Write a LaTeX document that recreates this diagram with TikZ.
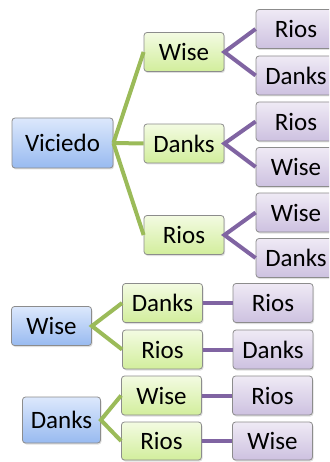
\documentclass[tikz,border=0pt]{standalone}
\usepackage{fontspec}
\setmainfont{Carlito}
\usetikzlibrary{shadows}

\definecolor{blueTop}{HTML}{DCE8FC}
\definecolor{blueBot}{HTML}{98BAF0}
\definecolor{greenTop}{HTML}{F3FBE2}
\definecolor{greenBot}{HTML}{D2EE9C}
\definecolor{purpTop}{HTML}{EFEAF5}
\definecolor{purpBot}{HTML}{CDC1E0}
\definecolor{greenLine}{HTML}{9BBB59}
\definecolor{purpLine}{HTML}{8064A2}

\begin{document}
\begin{tikzpicture}[x=1pt, y=-1pt,
    every node/.style={font=\fontsize{25}{28}\selectfont, rounded corners=3pt, draw=black!45, line width=0.8pt, inner sep=0pt, minimum width=80pt, minimum height=39pt, drop shadow={opacity=0.25, shadow xshift=1pt, shadow yshift=-1.5pt}},
    root/.style={top color=blueTop, bottom color=blueBot},
    mid/.style={top color=greenTop, bottom color=greenBot},
    leaf/.style={top color=purpTop, bottom color=purpBot},
    gline/.style={draw=greenLine, line width=4pt},
    pline/.style={draw=purpLine, line width=4pt}]
    \clip (0,0) rectangle (329,462);

    % first tree
    \node[root, minimum width=101pt, minimum height=50pt](vic) at (62.5, 143) {Viciedo};

    \node[mid](vic_w) at (184, 52) {Wise};
    \node[mid](vic_d) at (184, 143.5) {Danks};
    \node[mid](vic_r) at (184, 235) {Rios};

    \node[leaf](vic_w_r) at (296, 29) {Rios};
    \node[leaf](vic_w_d) at (296, 75.5) {Danks};
    \node[leaf](vic_d_r) at (296, 121.5) {Rios};
    \node[leaf](vic_d_w) at (296, 167) {Wise};
    \node[leaf](vic_r_w) at (296, 212.5) {Wise};
    \node[leaf](vic_r_d) at (296, 258) {Danks};

    \draw[gline] (vic.east) -- (vic_w.west);
    \draw[gline] (vic.east) -- (vic_d.west);
    \draw[gline] (vic.east) -- (vic_r.west);
    \draw[pline] (vic_w_r.west) -- (vic_w.east) -- (vic_w_d.west);
    \draw[pline] (vic_d_r.west) -- (vic_d.east) -- (vic_d_w.west);
    \draw[pline] (vic_r_w.west) -- (vic_r.east) -- (vic_r_d.west);

    % second tree
    \node[root](wis) at (51.5, 326) {Wise};
    \node[mid](wis_d) at (162.5, 303) {Danks};
    \node[mid](wis_r) at (162.5, 349.5) {Rios};
    \node[leaf](wis_d_r) at (273, 303) {Rios};
    \node[leaf](wis_r_d) at (273, 349.5) {Danks};

    \draw[gline] (wis_d.west) -- (wis.east) -- (wis_r.west);
    \draw[pline] (wis_d.east) -- (wis_d_r.west);
    \draw[pline] (wis_r.east) -- (wis_r_d.west);

    % third tree
    \node[root, minimum width=78pt, minimum height=46pt](dan) at (61.5, 420) {Danks};
    \node[mid](dan_w) at (161.5, 395.5) {Wise};
    \node[mid, minimum height=38pt](dan_r) at (161.5, 441) {Rios};
    \node[leaf](dan_w_r) at (272.5, 395.5) {Rios};
    \node[leaf, minimum height=38pt](dan_r_w) at (272.5, 441) {Wise};

    \draw[gline] (dan_w.west) -- (dan.east) -- (dan_r.west);
    \draw[pline] (dan_w.east) -- (dan_w_r.west);
    \draw[pline] (dan_r.east) -- (dan_r_w.west);
\end{tikzpicture}
\end{document}
